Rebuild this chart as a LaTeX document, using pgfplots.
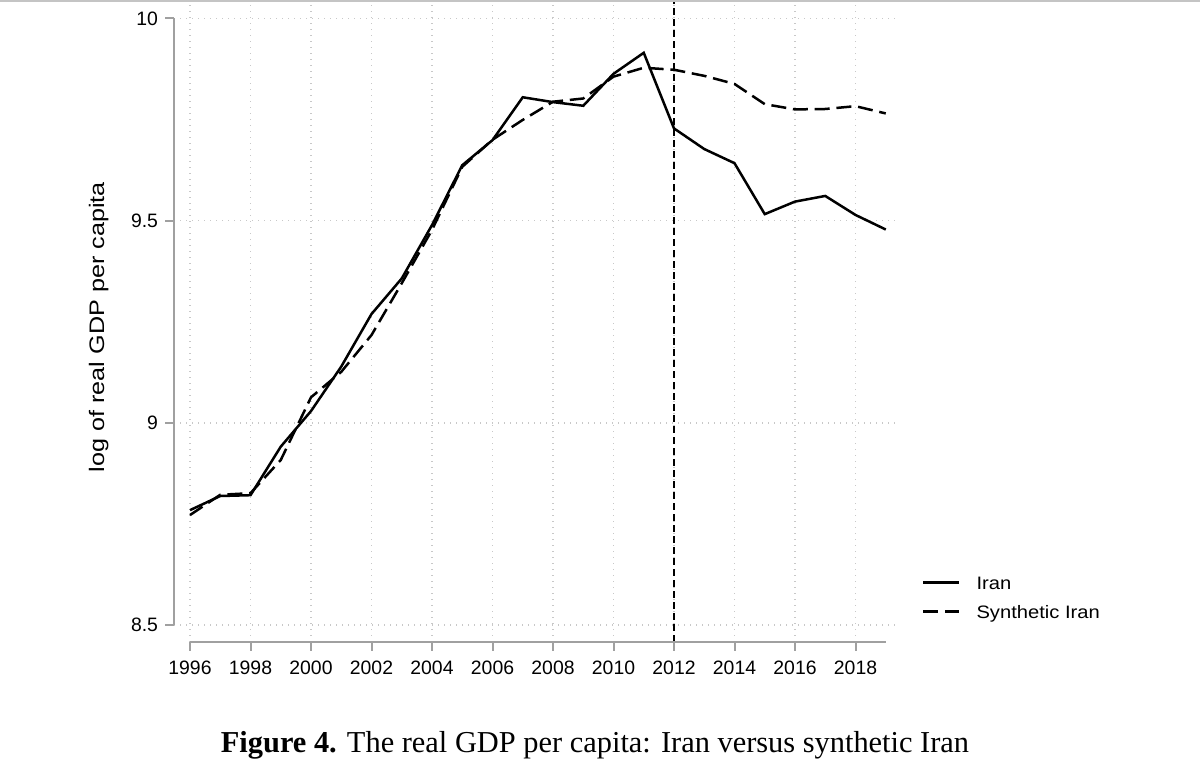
\documentclass[border=0pt]{standalone}
\usepackage{fontspec}
\setmainfont{Liberation Serif}
\setsansfont{Liberation Sans}
\usepackage{graphicx}
\usepackage{pgfplots}
\pgfplotsset{compat=1.18}
\definecolor{axgray}{HTML}{A0A0A0}
\definecolor{gridgray}{HTML}{C8C8C8}
\definecolor{topgray}{HTML}{C4C4C4}

\pgfplotstableread{
year iran synth
1996 8.784 8.772
1997 8.819 8.822
1998 8.821 8.826
1999 8.941 8.908
2000 9.029 9.063
2001 9.139 9.126
2002 9.269 9.217
2003 9.357 9.345
2004 9.489 9.477
2005 9.637 9.633
2006 9.699 9.700
2007 9.805 9.749
2008 9.793 9.794
2009 9.784 9.802
2010 9.863 9.856
2011 9.915 9.878
2012 9.728 9.873
2013 9.677 9.858
2014 9.642 9.838
2015 9.516 9.788
2016 9.547 9.775
2017 9.561 9.776
2018 9.514 9.783
2019 9.478 9.765
}\gdpdata

\begin{document}
\begin{tikzpicture}
\path[use as bounding box] (0,0) rectangle (600bp,388bp);
\fill[white] (0,0) rectangle (600bp,388bp);
\draw[topgray, line width=0.8bp] (0,387.6bp) -- (600bp,387.6bp);
\begin{axis}[
  at={(87bp,67bp)}, anchor=south west,
  scale only axis, width=361.5bp, height=320bp,
  xmin=1995.471, xmax=2019.372, ymin=8.458, ymax=10.0406,
  axis x line*=bottom, axis y line*=left,
  axis line style={draw=none},
  clip=false,
  xtick={1996,1998,...,2018},
  xticklabels={1996,1998,2000,2002,2004,2006,2008,2010,2012,2014,2016,2018},
  ytick={8.5,9,9.5,10},
  yticklabels={8.5,9,9.5,10},
  tick align=outside,
  major tick length=4.5bp,
  tick style={axgray, line width=1bp},
  grid=major,
  major grid style={gridgray, line width=0.7bp, dash pattern=on 0.7bp off 2.3bp},
  ticklabel style={font=\sffamily\fontsize{9.7bp}{11bp}\selectfont, text=black},
  xticklabel style={yshift=-1.5bp},
  /pgf/number format/assume math mode=true,
  every axis y label/.style={at={(axis description cs:-0.0968,0.492)}, rotate=90, anchor=base},
  ylabel={\scalebox{1.2}[1]{\sffamily\fontsize{10.5bp}{12bp}\selectfont log of real GDP per capita}},
  legend style={draw=none, fill=none, at={(axis description cs:1.0346,0.109)}, anchor=north west,
    inner sep=0pt, outer sep=0pt, row sep=4bp, column sep=8bp,
    nodes={inner sep=0pt, text height=8.5bp, text depth=2bp, font=\sffamily\fontsize{9bp}{10bp}\selectfont}},
  legend cell align=left,
  legend image code/.code={\draw[#1] (0bp,0bp) -- (18bp,0bp);},
]
\addplot[black, line width=1.25bp] table[x=year, y=iran] {\gdpdata};
\addlegendentry{\scalebox{1.12}[1]{Iran}}
\addplot[black, line width=1.25bp, dash pattern=on 7.5bp off 3.4bp] table[x=year, y=synth] {\gdpdata};
\addlegendentry{\scalebox{1.12}[1]{Synthetic Iran}}
\addplot[black, line width=1bp, dash pattern=on 3.5bp off 2bp, forget plot] coordinates {(2012,8.458) (2012,10.0406)};
\draw[axgray, line width=1bp] (axis cs:1995.471,8.5) -- (axis cs:1995.471,10);
\draw[axgray, line width=1bp] (axis cs:1996,8.458) -- (axis cs:2019,8.458);
\end{axis}
\node[anchor=base, font=\fontsize{15.2bp}{17bp}\selectfont] at (297.5bp,11.65bp) {\textbf{Figure 4.} The real GDP per capita: Iran versus synthetic Iran};
\end{tikzpicture}
\end{document}
